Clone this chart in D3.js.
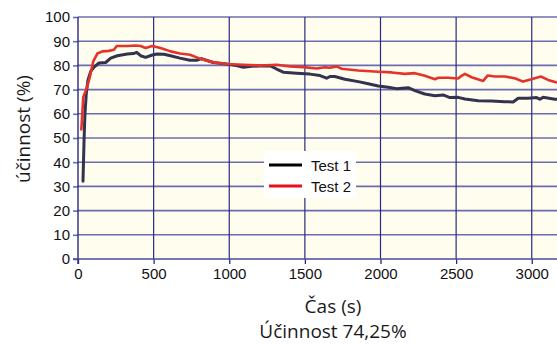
<!DOCTYPE html>
<html>
<head>
<meta charset="utf-8">
<script src="https://cdn.jsdelivr.net/npm/d3@7"></script>
<style>
  html, body { margin: 0; padding: 0; background: #ffffff; }
  svg { display: block; }
</style>
</head>
<body>
<svg id="chart" width="557" height="344"></svg>
<script>
// Efficiency over time for two test runs
const timeTest1 = [33, 40, 46, 55, 66, 84, 106, 139, 183, 216, 260, 326, 366, 388, 414, 447, 491, 524, 568, 612, 674, 740, 784, 817, 894, 983, 1048, 1093, 1150, 1200, 1269, 1313, 1357, 1445, 1533, 1600, 1644, 1666, 1698, 1765, 1853, 1919, 1985, 2051, 2106, 2183, 2227, 2293, 2360, 2414, 2459, 2513, 2558, 2646, 2734, 2822, 2877, 2910, 2976, 3032, 3053, 3075, 3153, 3170];
const effTest1  = [32.1, 49, 60, 68.5, 74, 77.5, 79.3, 81, 81.2, 83, 84, 84.7, 84.9, 85.4, 84, 83.3, 84.3, 84.7, 84.6, 84, 83, 82.1, 82.1, 82.8, 81.2, 80.6, 79.9, 79.2, 79.6, 79.8, 79.9, 78.5, 77.2, 76.8, 76.4, 75.8, 74.7, 75.4, 75.4, 74.3, 73.3, 72.4, 71.5, 71, 70.4, 70.8, 69.6, 68.2, 67.5, 67.8, 66.7, 66.8, 66.1, 65.4, 65.3, 65, 64.9, 66.4, 66.4, 66.7, 66, 66.8, 66, 66];

const timeTest2 = [22, 35, 57, 79, 101, 128, 161, 205, 238, 256, 326, 381, 414, 447, 491, 546, 612, 674, 740, 806, 894, 983, 1093, 1203, 1313, 1401, 1489, 1578, 1632, 1666, 1710, 1743, 1853, 1985, 2073, 2161, 2227, 2293, 2360, 2381, 2448, 2513, 2536, 2558, 2602, 2679, 2708, 2756, 2822, 2888, 2943, 2998, 3060, 3108, 3160, 3170];
const effTest2  = [53.5, 67, 70.5, 75.4, 81.7, 84.9, 85.8, 86, 86.5, 88, 88, 88.2, 88, 87.2, 88, 87.2, 85.8, 84.9, 84.4, 82.8, 81.25, 80.6, 80.3, 79.9, 80.3, 79.6, 79.3, 78.75, 79.2, 79, 79.6, 78.6, 77.9, 77.4, 77.1, 76.5, 76.8, 75.7, 74.3, 74.9, 74.9, 74.6, 75.7, 76.5, 75.1, 73.6, 75.8, 75.4, 75.4, 74.7, 73.3, 74.3, 75.4, 74, 73, 72.9];

const seriesNames = ["Test 1", "Test 2"];
const xTicks = [0, 500, 1000, 1500, 2000, 2500, 3000];
const yTicks = [0, 10, 20, 30, 40, 50, 60, 70, 80, 90, 100];
const xTitle = "Čas (s)";
const yTitle = "účinnost (%)";
const subtitle = "Účinnost 74,25%";

const svg = d3.select("#chart");
const plotLeft = 78, plotTop = 17, plotBottom = 259, plotRight = 562;

const x = d3.scaleLinear().domain([0, 3200]).range([plotLeft, plotRight]);
const y = d3.scaleLinear().domain([0, 100]).range([plotBottom, plotTop]);

const colors = ["#33334f", "#e5322b"];

// plot background
svg.append("rect")
  .attr("x", plotLeft).attr("y", plotTop)
  .attr("width", plotRight - plotLeft).attr("height", plotBottom - plotTop)
  .attr("fill", "#fffdee");

// horizontal grid
svg.append("g")
  .selectAll("line").data(yTicks.filter(d => d > 0)).join("line")
  .attr("x1", plotLeft).attr("x2", plotRight)
  .attr("y1", d => y(d)).attr("y2", d => y(d))
  .attr("stroke", "#6c6cb0").attr("stroke-width", 1.6);

// vertical grid
svg.append("g")
  .selectAll("line").data(xTicks.filter(d => d > 0)).join("line")
  .attr("x1", d => x(d)).attr("x2", d => x(d))
  .attr("y1", plotTop).attr("y2", plotBottom)
  .attr("stroke", "#2a2a82").attr("stroke-width", 1.2);

// axes
const yAxis = d3.axisLeft(y).tickValues(yTicks).tickFormat(d3.format("d")).tickSize(5).tickPadding(3);
const xAxis = d3.axisBottom(x).tickValues(xTicks).tickFormat(d3.format("d")).tickSize(5).tickPadding(4);

const gy = svg.append("g").attr("transform", `translate(${plotLeft},0)`).call(yAxis);
const gx = svg.append("g").attr("transform", `translate(0,${plotBottom})`).call(xAxis);

[gx, gy].forEach(g => {
  g.select(".domain").remove();
  g.selectAll(".tick line").attr("stroke", "#2a2a82").attr("stroke-width", 1.3);
  g.selectAll(".tick text")
    .attr("fill", "#111")
    .style("font-family", "'Liberation Sans', Arial, sans-serif")
    .style("font-size", "15px");
});
gy.selectAll(".tick line").attr("stroke", "#6c6cb0").attr("stroke-width", 1.6);

// axis lines
svg.append("line")
  .attr("x1", plotLeft).attr("x2", plotLeft).attr("y1", plotTop).attr("y2", plotBottom + 5)
  .attr("stroke", "#2a2a82").attr("stroke-width", 1.4);
svg.append("line")
  .attr("x1", plotLeft - 5).attr("x2", plotRight).attr("y1", plotBottom).attr("y2", plotBottom)
  .attr("stroke", "#4a4a9a").attr("stroke-width", 1.6);

// clip for data lines
svg.append("clipPath").attr("id", "plot-clip")
  .append("rect").attr("x", plotLeft).attr("y", plotTop)
  .attr("width", plotRight - plotLeft).attr("height", plotBottom - plotTop);

const line = d3.line().x(d => x(d[0])).y(d => y(d[1]));
const series = [
  d3.zip(timeTest1, effTest1),
  d3.zip(timeTest2, effTest2)
];
const widths = [3, 2.6];

svg.append("g").attr("clip-path", "url(#plot-clip)")
  .selectAll("path").data(series).join("path")
  .attr("d", line)
  .attr("fill", "none")
  .attr("stroke", (d, i) => colors[i])
  .attr("stroke-width", (d, i) => widths[i])
  .attr("stroke-linejoin", "round")
  .attr("stroke-linecap", "round");

// legend
const lg = svg.append("g");
lg.append("rect")
  .attr("x", 264).attr("y", 151).attr("width", 92).attr("height", 47)
  .attr("fill", "#ffffff");
seriesNames.forEach((name, i) => {
  const ly = 165 + i * 21;
  lg.append("line")
    .attr("x1", 269).attr("x2", 302).attr("y1", ly).attr("y2", ly)
    .attr("stroke", i === 0 ? "#000000" : "#e8101a").attr("stroke-width", 3);
  lg.append("text")
    .attr("x", 311).attr("y", ly + 5.5)
    .attr("fill", "#111")
    .style("font-family", "'Liberation Sans', Arial, sans-serif")
    .style("font-size", "15px")
    .text(name);
});

// titles
const titleFont = "'Open Sans', 'Noto Sans', sans-serif";
svg.append("text")
  .attr("transform", "translate(30,129) rotate(-90)")
  .attr("text-anchor", "middle")
  .attr("fill", "#1a1a1a")
  .style("font-family", titleFont).style("font-size", "19px")
  .text(yTitle);
svg.append("text")
  .attr("x", 333).attr("y", 313)
  .attr("text-anchor", "middle")
  .attr("fill", "#1a1a1a")
  .style("font-family", titleFont).style("font-size", "19px")
  .text(xTitle);
svg.append("text")
  .attr("x", 333).attr("y", 338)
  .attr("text-anchor", "middle")
  .attr("fill", "#1a1a1a")
  .style("font-family", titleFont).style("font-size", "19px")
  .text(subtitle);
</script>
</body>
</html>
